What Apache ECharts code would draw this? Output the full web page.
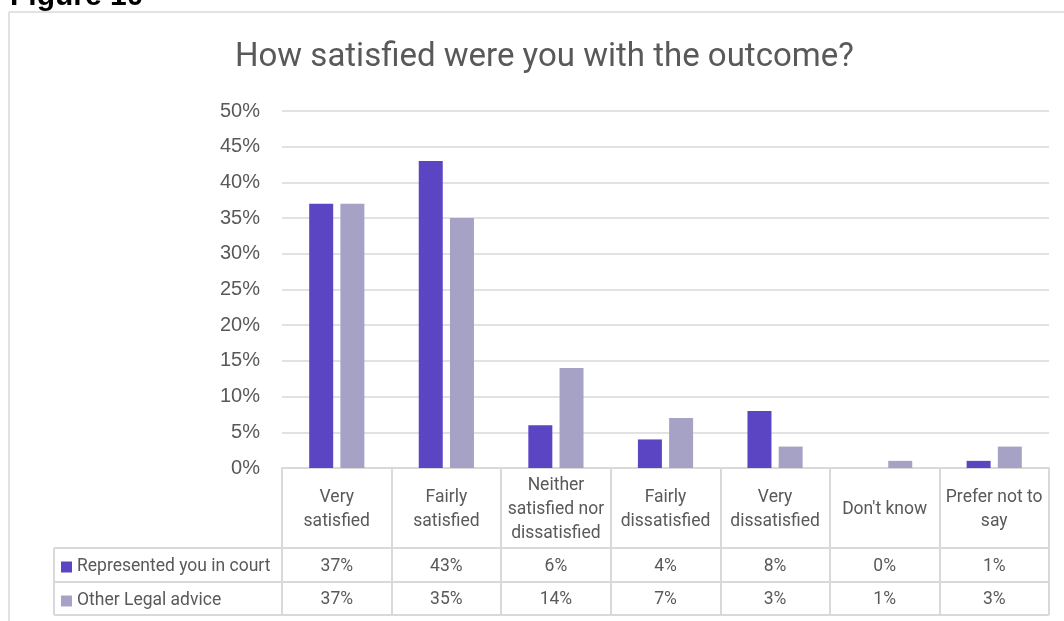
<!DOCTYPE html>
<html>
<head>
<meta charset="utf-8">
<script src="https://cdn.jsdelivr.net/npm/echarts@6/dist/echarts.min.js"></script>
<style>
  html, body { margin: 0; padding: 0; background: #ffffff; }
  #chart { width: 1064px; height: 621px; }
</style>
</head>
<body>
<div id="chart"></div>
<script>
// Survey answers: how satisfied respondents were with the outcome
const categories = [
  'Very\nsatisfied',
  'Fairly\nsatisfied',
  'Neither\nsatisfied nor\ndissatisfied',
  'Fairly\ndissatisfied',
  'Very\ndissatisfied',
  "Don't know",
  'Prefer not to\nsay'
];
const seriesNames = ['Represented you in court', 'Other Legal advice'];
const representedInCourt = [37, 43, 6, 4, 8, 0, 1];
const otherLegalAdvice = [37, 35, 14, 7, 3, 1, 3];
const yTickMin = 0;
const yTickMax = 50;
const yTickStep = 5;

// Layout (pixels)
const GRID_LEFT = 282;
const GRID_RIGHT_X = 1049;
const GRID_TOP = 111;
const AXIS_Y = 468;
const ROW_1 = 548;
const ROW_2 = 582;
const ROW_3 = 615;
const TABLE_LEFT = 54;

const TEXT = '#595959';
const LINE = '#d9d9d9';
const PURPLE = '#5B45C3';
const LILAC = '#A6A2C6';
const FONT = 'Roboto';

const pct = v => v + '%';

const chart = echarts.init(document.getElementById('chart'), null, { renderer: 'canvas' });

// value row of the data table, drawn as an extra category axis under the plot
function tableRowAxis(values, rowTop, rowBottom) {
  return {
    type: 'category',
    gridIndex: 0,
    position: 'bottom',
    data: values.map(pct),
    axisLine: { show: false },
    axisTick: { show: false },
    splitLine: { show: false },
    axisLabel: {
      interval: 0,
      margin: (rowTop + rowBottom) / 2 - AXIS_Y + 1.5,
      verticalAlign: 'middle',
      color: TEXT,
      fontFamily: FONT,
      fontSize: 17.5
    }
  };
}

const option = {
  animation: false,
  backgroundColor: '#ffffff',
  title: {
    text: 'How satisfied were you with the outcome?',
    left: 230,
    top: 36,
    textStyle: { color: TEXT, fontFamily: FONT, fontSize: 33, fontWeight: 'normal' }
  },
  legend: {
    data: seriesNames,
    orient: 'vertical',
    left: 61,
    top: 557,
    padding: 0,
    icon: 'rect',
    itemWidth: 11,
    itemHeight: 11,
    itemGap: 14,
    selectedMode: false,
    textStyle: { color: TEXT, fontFamily: FONT, fontSize: 17.5, lineHeight: 20 }
  },
  grid: {
    left: GRID_LEFT,
    right: 1064 - GRID_RIGHT_X,
    top: GRID_TOP,
    bottom: 621 - AXIS_Y,
    containLabel: false
  },
  xAxis: [
    {
      type: 'category',
      data: categories,
      axisLine: { show: true, lineStyle: { color: LINE, width: 2 } },
      axisTick: {
        show: true,
        interval: 0,
        alignWithLabel: false,
        length: ROW_3 - AXIS_Y,
        lineStyle: { color: LINE, width: 2 }
      },
      axisLabel: {
        interval: 0,
        margin: (AXIS_Y + ROW_1) / 2 - AXIS_Y + 2,
        verticalAlign: 'middle',
        align: 'center',
        color: TEXT,
        fontFamily: FONT,
        fontSize: 17.5,
        lineHeight: 24
      }
    },
    tableRowAxis(representedInCourt, ROW_1, ROW_2),
    tableRowAxis(otherLegalAdvice, ROW_2, ROW_3)
  ],
  yAxis: {
    type: 'value',
    min: yTickMin,
    max: yTickMax,
    interval: yTickStep,
    axisLine: { show: false },
    axisTick: { show: false },
    splitLine: { lineStyle: { color: LINE, width: 1.5 } },
    axisLabel: {
      formatter: '{value}%',
      margin: 22,
      color: TEXT,
      fontFamily: 'Liberation Sans',
      fontSize: 20
    }
  },
  series: [
    {
      name: seriesNames[0],
      type: 'bar',
      data: representedInCourt,
      barWidth: 24,
      barGap: '30%',
      itemStyle: { color: PURPLE }
    },
    {
      name: seriesNames[1],
      type: 'bar',
      data: otherLegalAdvice,
      barWidth: 24,
      barGap: '30%',
      itemStyle: { color: LILAC }
    }
  ],
  graphic: [
    // outer frame of the figure
    { type: 'line', shape: { x1: 9, y1: 12, x2: 1064, y2: 12 }, style: { stroke: LINE, lineWidth: 1.5 }, silent: true },
    { type: 'line', shape: { x1: 9, y1: 12, x2: 9, y2: 621 }, style: { stroke: LINE, lineWidth: 1.5 }, silent: true },
    // figure caption, partly outside the top edge
    {
      type: 'text',
      left: 10,
      top: -18,
      style: { text: 'Figure 10', fill: '#000000', font: 'bold 30px "Liberation Sans"' },
      silent: true
    },
    // data table rules
    { type: 'line', shape: { x1: TABLE_LEFT, y1: ROW_1, x2: GRID_RIGHT_X, y2: ROW_1 }, style: { stroke: LINE, lineWidth: 2 }, silent: true },
    { type: 'line', shape: { x1: TABLE_LEFT, y1: ROW_2, x2: GRID_RIGHT_X, y2: ROW_2 }, style: { stroke: LINE, lineWidth: 2 }, silent: true },
    { type: 'line', shape: { x1: TABLE_LEFT, y1: ROW_3, x2: GRID_RIGHT_X, y2: ROW_3 }, style: { stroke: LINE, lineWidth: 2 }, silent: true },
    { type: 'line', shape: { x1: TABLE_LEFT, y1: ROW_1, x2: TABLE_LEFT, y2: ROW_3 }, style: { stroke: LINE, lineWidth: 2 }, silent: true }
  ]
};

chart.setOption(option);
</script>
</body>
</html>
